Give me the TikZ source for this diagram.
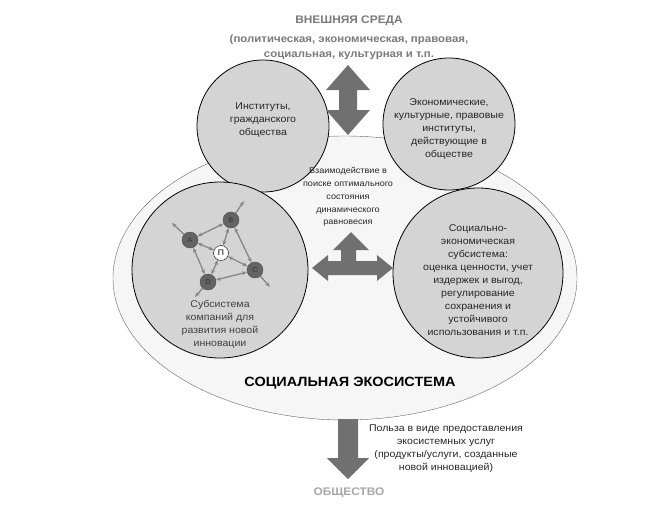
\documentclass[tikz,border=0pt]{standalone}
\usepackage{fontspec}
\setmainfont{Liberation Sans}[FakeStretch=1.08]
\usetikzlibrary{arrows.meta}

\definecolor{circgray}{RGB}{212,212,212}
\definecolor{ecofill}{RGB}{246,246,246}
\definecolor{fatgray}{RGB}{112,112,112}
\definecolor{headgray}{RGB}{122,122,122}
\definecolor{firmgray}{RGB}{100,100,100}
\definecolor{linkgray}{RGB}{135,135,135}

\tikzset{
  txt/.style={font=\fontsize{9.8}{13}\selectfont, align=center, inner sep=0pt, text=black!85},
  sub/.style={circle, draw=black, thick, fill=circgray},
  firm/.style={circle, draw=black!70, fill=firmgray, minimum size=16pt, inner sep=0pt,
    font=\fontsize{7}{7}\selectfont, text=black!80},
  hub/.style={circle, draw=black, fill=white, minimum size=15pt, inner sep=0pt,
    font=\fontsize{8}{8}\selectfont},
  link/.style={draw=linkgray, line width=1.3pt, {Stealth[length=5pt]}-{Stealth[length=5pt]}},
  outlink/.style={draw=linkgray, line width=1.3pt, -{Stealth[length=5pt]}},
  fat/.style={fill=fatgray, draw=none}
}

\begin{document}
\begin{tikzpicture}[x=1pt, y=-1pt]
    \useasboundingbox (0,0) rectangle (664,531);

    % social ecosystem
    \draw[black!60, fill=ecofill] (345,278) ellipse (232 and 142);

    % institutions
    \draw[sub] (263,126) circle (66);
    \draw[sub] (449,124) circle (66);
    \node[txt] (inst) at (263,120) {Институты,\\гражданского\\общества};
    \node[txt] (econinst) at (449,129) {Экономические,\\культурные, правовые\\институты,\\действующие в\\обществе};

    % external environment
    \node[txt, font=\bfseries\fontsize{11}{13}\selectfont, text=headgray] (env) at (349,21) {ВНЕШНЯЯ СРЕДА};
    \node[txt, font=\bfseries\fontsize{10.6}{15}\selectfont, text=headgray] (envlist) at (349,47)
        {(политическая, экономическая, правовая,\\социальная, культурная и т.п.};
    \fill[fat] (348,65) -- (370,90) -- (357,90) -- (357,110) -- (370,110) -- (348,135)
        -- (326,110) -- (339,110) -- (339,90) -- (326,90) -- cycle;

    % subsystems
    \draw[sub] (220,270) circle (88);
    \draw[sub] (478,273) circle (85);
    \node[txt, text=black!75] (firms) at (220,324) {Субсистема\\компаний для\\развития новой\\инновации};
    \node[txt] (socecon) at (478,280) {Социально-\\экономическая\\субсистема:\\оценка ценности, учет\\издержек и выгод,\\регулирование\\сохранения и\\устойчивого\\использования и т.п.};

    % interaction
    \node[txt, font=\fontsize{8.4}{12.8}\selectfont] (inter) at (348,197) {Взаимодействие в\\поиске оптимального\\состояния\\динамического\\равновесия};
    \fill[fat] (312,268) -- (328,255) -- (328,261) -- (341,261) -- (341,250) -- (333,250)
        -- (351,232) -- (369,250) -- (356,250) -- (356,261) -- (377,261) -- (377,255)
        -- (393,268) -- (377,281) -- (377,275) -- (328,275) -- (328,281) -- cycle;

    % network of firms
    \node[firm] (A) at (190,240) {A};
    \node[firm] (B) at (231,220) {B};
    \node[hub] (P) at (221,253) {П};
    \node[firm] (C) at (255,270) {C};
    \node[firm] (D) at (208,282) {D};
    \coordinate (a0) at (172,223);
    \coordinate (b0) at (244,201);
    \coordinate (c0) at (270,287);
    \coordinate (d0) at (195,297);
    \draw[link] (A) -- (B);
    \draw[link] (A) -- (P);
    \draw[link] (A) -- (D);
    \draw[link] (B) -- (P);
    \draw[link] (B) -- (C);
    \draw[link] (P) -- (C);
    \draw[link] (P) -- (D);
    \draw[link] (D) -- (C);
    \draw[outlink] (A) -- (a0);
    \draw[outlink] (B) -- (b0);
    \draw[outlink] (C) -- (c0);
    \draw[outlink] (D) -- (d0);

    \node[txt, font=\bfseries\fontsize{13.4}{15}\selectfont, text=black] (eco) at (350,383) {СОЦИАЛЬНАЯ ЭКОСИСТЕМА};

    % benefit to society
    \fill[fat] (338,419) -- (358,419) -- (358,458) -- (369,458) -- (348,479) -- (327,458)
        -- (338,458) -- cycle;
    \node[txt] (benefit) at (446,449) {Польза в виде предоставления\\экосистемных услуг\\(продукты/услуги, созданные\\новой инновацией)};
    \node[txt, font=\bfseries\fontsize{11}{12}\selectfont, text=black!35] (society) at (349,493) {ОБЩЕСТВО};
\end{tikzpicture}
\end{document}
